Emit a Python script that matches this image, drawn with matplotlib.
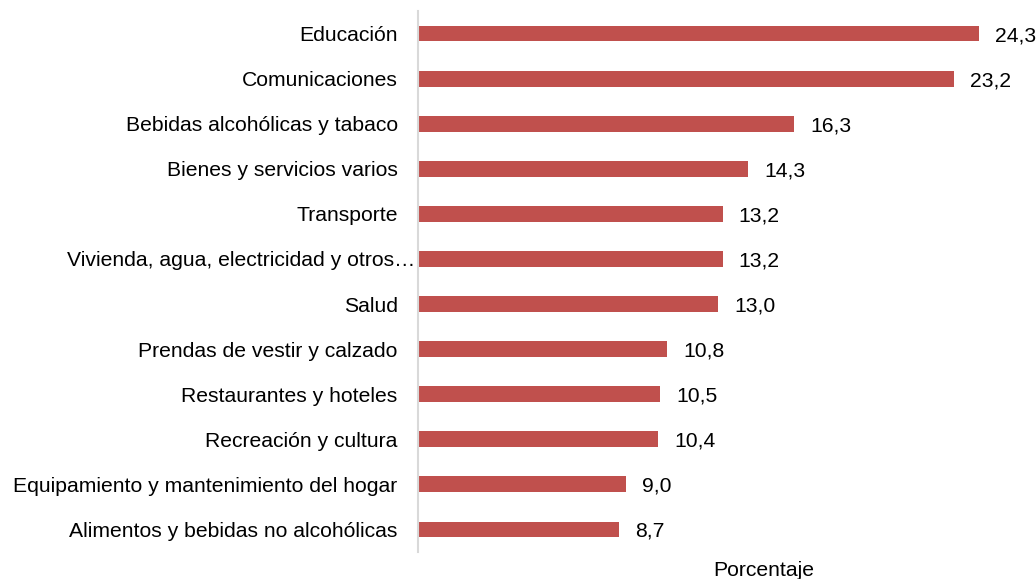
import matplotlib
matplotlib.use('Agg')
import matplotlib.pyplot as plt
import matplotlib.transforms as mtransforms

categorias = ['Educación', 'Comunicaciones', 'Bebidas alcohólicas y tabaco',
              'Bienes y servicios varios', 'Transporte',
              'Vivienda, agua, electricidad y otros…', 'Salud',
              'Prendas de vestir y calzado', 'Restaurantes y hoteles',
              'Recreación y cultura', 'Equipamiento y mantenimiento del hogar',
              'Alimentos y bebidas no alcohólicas']
valores = [24.3, 23.2, 16.3, 14.3, 13.2, 13.2, 13.0, 10.8, 10.5, 10.4, 9.0, 8.7]

plt.rcParams['font.family'] = ['Liberation Sans', 'DejaVu Sans']
fs = 15.2

fig = plt.figure(figsize=(10.36, 5.79), dpi=100)
ax = fig.add_axes([417.7 / 1036, 27 / 579, (1030 - 417.7) / 1036, (552 - 11) / 579])

n = len(categorias)
pos = [n - 1 - i for i in range(n)]
ax.barh(pos, valores, height=0.35, color='#C0504D')

ax.set_xlim(0, (1030 - 417.7) / 23.1)
ax.set_ylim(-0.5, n - 0.5)
ax.set_xticks([])
ax.set_yticks([])
for s in ['top', 'right', 'bottom']:
    ax.spines[s].set_visible(False)
ax.spines['left'].set_color('#d9d9d9')
ax.spines['left'].set_linewidth(1.5)

trans = mtransforms.blended_transform_factory(ax.transAxes, ax.transData)
for p, c, v in zip(pos, categorias, valores):
    # etiqueta larga casi pegada al eje, como en el original
    off = -2 if c.endswith('…') else -20
    ax.text(0, p, c, transform=trans + mtransforms.ScaledTranslation(off / 100, 0, fig.dpi_scale_trans),
            ha='right', va='center_baseline', fontsize=fs)
    ax.text(v, p, ('%.1f' % v).replace('.', ','),
            transform=ax.transData + mtransforms.ScaledTranslation(16 / 100, 0, fig.dpi_scale_trans),
            ha='left', va='center_baseline', fontsize=fs)

fig.text(764 / 1036, 1 - 576 / 579, 'Porcentaje', ha='center', va='baseline', fontsize=fs)

fig.savefig('out.png', dpi=100)
